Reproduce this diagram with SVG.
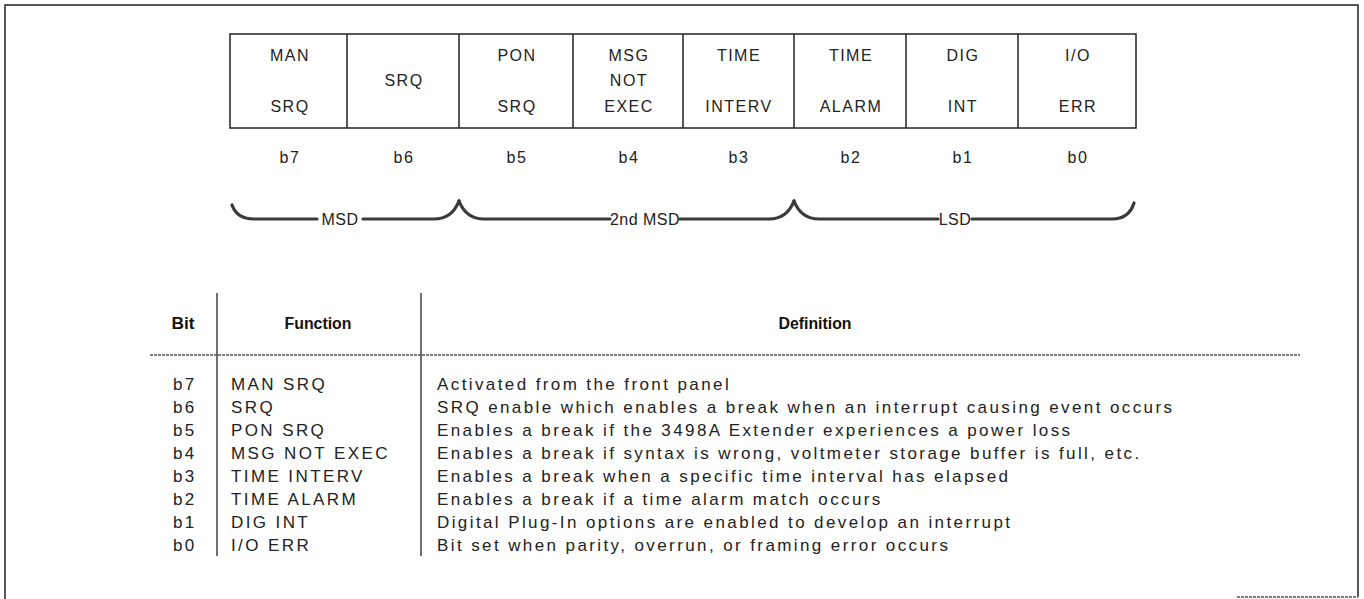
<svg xmlns="http://www.w3.org/2000/svg" width="1364" height="599" viewBox="0 0 1364 599">
<style>
.frame{fill:none;stroke:#222;stroke-width:1.5}
.cell{fill:none;stroke:#222;stroke-width:1.5}
.ct{font-family:"Liberation Sans",Arial,sans-serif;font-size:16px;fill:#222;text-anchor:middle;letter-spacing:1.5px}
.bl{font-family:"Liberation Sans",Arial,sans-serif;font-size:16px;fill:#222;text-anchor:middle;letter-spacing:1.5px}
.brace{fill:none;stroke:#3a3a3a;stroke-width:3.2;stroke-linecap:round}
.bt{font-family:"Liberation Sans",Arial,sans-serif;font-size:16px;fill:#222;text-anchor:middle;letter-spacing:0.5px}
.hd{font-family:"Liberation Sans",Arial,sans-serif;font-size:16px;font-weight:bold;fill:#111;text-anchor:middle}
.tx{font-family:"Liberation Sans",Arial,sans-serif;font-size:17px;fill:#222;letter-spacing:2.4px}
.rule{stroke:#222;stroke-width:1.3}
.dot{stroke:#555;stroke-width:1.3;stroke-dasharray:3 1}
</style>
<g id="frame">
<path class="frame" d="M5,599 V5 H1358 V597"/>
<line class="dot" x1="1237" y1="597" x2="1358" y2="597"/>
</g>
<g id="register">
<rect class="cell" x="230" y="34" width="906" height="94"/>
<line class="cell" x1="347" y1="34" x2="347" y2="128"/>
<line class="cell" x1="459" y1="34" x2="459" y2="128"/>
<line class="cell" x1="573" y1="34" x2="573" y2="128"/>
<line class="cell" x1="683" y1="34" x2="683" y2="128"/>
<line class="cell" x1="794" y1="34" x2="794" y2="128"/>
<line class="cell" x1="906" y1="34" x2="906" y2="128"/>
<line class="cell" x1="1018" y1="34" x2="1018" y2="128"/>
</g>
<g id="b7"><text class="ct" x="290" y="61">MAN</text><text class="ct" x="290" y="112">SRQ</text><text class="bl" x="290" y="163">b7</text></g>
<g id="b6"><text class="ct" x="404" y="86">SRQ</text><text class="bl" x="404" y="163">b6</text></g>
<g id="b5"><text class="ct" x="517" y="61">PON</text><text class="ct" x="517" y="112">SRQ</text><text class="bl" x="517" y="163">b5</text></g>
<g id="b4"><text class="ct" x="629" y="61">MSG</text><text class="ct" x="629" y="86">NOT</text><text class="ct" x="629" y="112">EXEC</text><text class="bl" x="629" y="163">b4</text></g>
<g id="b3"><text class="ct" x="739" y="61">TIME</text><text class="ct" x="739" y="112">INTERV</text><text class="bl" x="739" y="163">b3</text></g>
<g id="b2"><text class="ct" x="851" y="61">TIME</text><text class="ct" x="851" y="112">ALARM</text><text class="bl" x="851" y="163">b2</text></g>
<g id="b1"><text class="ct" x="963" y="61">DIG</text><text class="ct" x="963" y="112">INT</text><text class="bl" x="963" y="163">b1</text></g>
<g id="b0"><text class="ct" x="1078" y="61">I/O</text><text class="ct" x="1078" y="112">ERR</text><text class="bl" x="1078" y="163">b0</text></g>
<g id="braces">
<path class="brace" d="M232,205 Q237,219 254,219 H317 M363,219 H434 Q452,219 459,201"/>
<path class="brace" d="M459,201 Q466,219 484,219 H610 M680,219 H769 Q787,219 794,201"/>
<path class="brace" d="M794,201 Q801,219 819,219 H938 M972,219 H1112 Q1129,219 1134,203"/>
<text class="bt" x="340" y="225">MSD</text>
<text class="bt" x="645" y="225">2nd MSD</text>
<text class="bt" x="955" y="225">LSD</text>
</g>
<g id="table">
<line class="rule" x1="217" y1="293" x2="217" y2="556"/>
<line class="rule" x1="421" y1="293" x2="421" y2="556"/>
<line class="dot" x1="150" y1="355" x2="1300" y2="355"/>
<text class="hd" x="183" y="329" textLength="23" lengthAdjust="spacingAndGlyphs">Bit</text>
<text class="hd" x="318" y="329" textLength="67" lengthAdjust="spacingAndGlyphs">Function</text>
<text class="hd" x="815" y="329" textLength="73" lengthAdjust="spacingAndGlyphs">Definition</text>
<g class="tx">
<text x="173" y="390">b7</text>
<text x="173" y="413">b6</text>
<text x="173" y="436">b5</text>
<text x="173" y="459">b4</text>
<text x="173" y="482">b3</text>
<text x="173" y="505">b2</text>
<text x="173" y="528">b1</text>
<text x="173" y="551">b0</text>
<text x="231" y="390">MAN SRQ</text>
<text x="231" y="413">SRQ</text>
<text x="231" y="436">PON SRQ</text>
<text x="231" y="459">MSG NOT EXEC</text>
<text x="231" y="482">TIME INTERV</text>
<text x="231" y="505">TIME ALARM</text>
<text x="231" y="528">DIG INT</text>
<text x="231" y="551">I/O ERR</text>
<text x="437" y="390">Activated from the front panel</text>
<text x="437" y="413">SRQ enable which enables a break when an interrupt causing event occurs</text>
<text x="437" y="436">Enables a break if the 3498A Extender experiences a power loss</text>
<text x="437" y="459">Enables a break if syntax is wrong, voltmeter storage buffer is full, etc.</text>
<text x="437" y="482">Enables a break when a specific time interval has elapsed</text>
<text x="437" y="505">Enables a break if a time alarm match occurs</text>
<text x="437" y="528">Digital Plug-In options are enabled to develop an interrupt</text>
<text x="437" y="551">Bit set when parity, overrun, or framing error occurs</text>
</g>
</g>
</svg>
